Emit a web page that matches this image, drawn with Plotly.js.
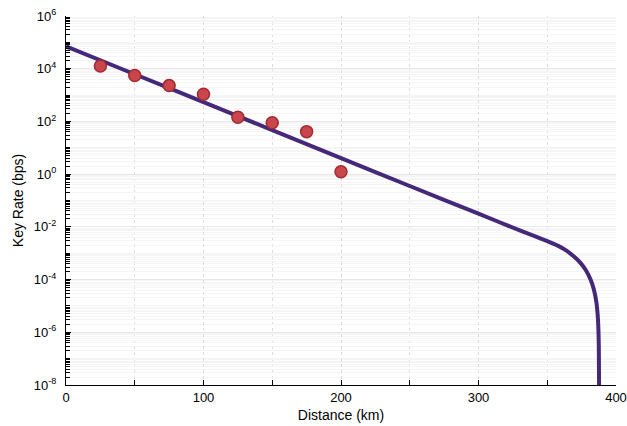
<!DOCTYPE html>
<html>
<head>
<meta charset="utf-8">
<script src="https://cdn.plot.ly/plotly-3.0.1.min.js"></script>
<style>html,body{margin:0;padding:0;background:#fff;}#chart{width:627px;height:426px;}</style>
</head>
<body>
<div id="chart"></div>
<script>
// Measured points
var measuredDistance = [25, 50, 75, 100, 125, 150, 175, 200];
var measuredRate = [12600, 5500, 2290, 1070, 145, 89, 41, 1.23];

// Simulated curve
var curveDistance = [0, 50, 100, 150, 200, 250, 300, 330, 350, 358, 364, 369, 374, 378, 381.5, 384, 385.8, 386.9, 387.5, 387.8];
var curveRate = [70800, 6170, 537, 46.8, 4.07, 0.355, 0.0316, 0.0073, 0.0029, 0.0019, 0.00125, 7.8e-4, 4.4e-4, 2.3e-4, 1.0e-4, 4.0e-5, 1.3e-5, 3.0e-6, 3.0e-7, 1e-9];

// Axis ticks
var xTickVals = [0, 100, 200, 300, 400];
var yExponents = [-8, -6, -4, -2, 0, 2, 4, 6];

var yTickVals = yExponents.map(function(e){ return Math.pow(10, e); });
var yTickText = yExponents.map(function(e){ return '10<sup>' + e + '</sup>'; });
var yMinor = [];
for (var d = -8; d < 6; d++) {
  for (var k = 1; k <= 9; k++) {
    if (k === 1 && d % 2 === 0) continue;
    yMinor.push(k * Math.pow(10, d));
  }
}

var traces = [
  {
    x: curveDistance, y: curveRate, type: 'scatter', mode: 'lines',
    line: {color: '#45287a', width: 4, shape: 'spline', smoothing: 0.4},
    hoverinfo: 'skip'
  },
  {
    x: measuredDistance, y: measuredRate, type: 'scatter', mode: 'markers',
    marker: {color: '#c9464c', size: 12, line: {color: '#a32a30', width: 1.5}}
  }
];

var layout = {
  width: 627, height: 426,
  margin: {l: 66, r: 11, t: 16, b: 41},
  showlegend: false,
  paper_bgcolor: '#fff', plot_bgcolor: '#fff',
  font: {family: 'Liberation Sans, Arial, sans-serif', size: 13, color: '#000'},
  xaxis: {
    range: [0, 400], tickvals: xTickVals, ticks: 'inside', ticklen: 5, tickcolor: '#000',
    showline: true, linecolor: '#000', linewidth: 1, mirror: false, zeroline: false,
    showgrid: true, gridcolor: '#dcdcdc', griddash: 'dot', gridwidth: 1,
    minor: {dtick: 50, ticks: 'inside', ticklen: 5, tickcolor: '#000', showgrid: true, gridcolor: '#dcdcdc', griddash: 'dot'},
    title: {text: 'Distance (km)', font: {size: 14}, standoff: 6},
    tickfont: {size: 13}
  },
  yaxis: {
    type: 'log', range: [-8, 6], tickvals: yTickVals, ticktext: yTickText,
    ticks: 'inside', ticklen: 5, tickcolor: '#000', ticklabelstandoff: 6,
    showline: true, linecolor: '#000', linewidth: 1, mirror: false, zeroline: false,
    showgrid: true, gridcolor: '#e8e8e8', gridwidth: 1,
    minor: {tickmode: 'array', tickvals: yMinor, ticks: 'inside', ticklen: 4, tickcolor: '#000', showgrid: true, gridcolor: '#f5f5f5'},
    title: {text: 'Key Rate (bps)', font: {size: 14}, standoff: 6},
    tickfont: {size: 13}
  }
};

Plotly.newPlot('chart', traces, layout, {displayModeBar: false, staticPlot: true});
</script>
</body>
</html>
